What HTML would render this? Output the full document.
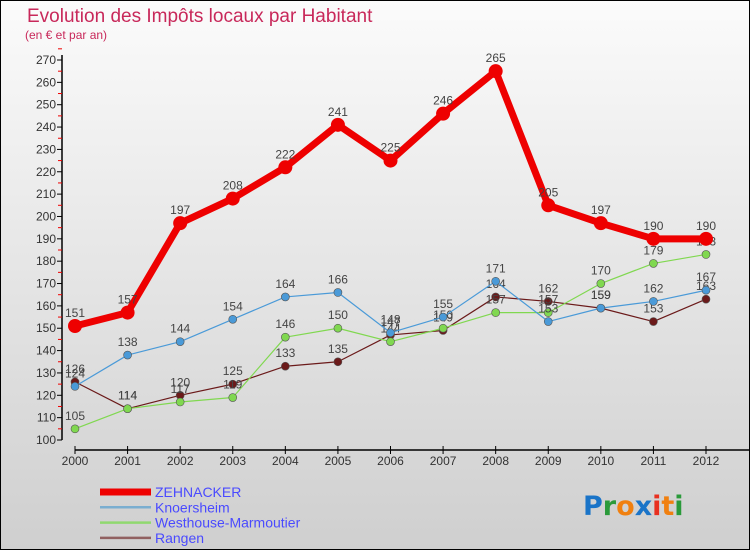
<!DOCTYPE html>
<html><head><meta charset="utf-8"><style>
html,body{margin:0;padding:0}
body{width:750px;height:550px;overflow:hidden;font-family:"Liberation Sans",sans-serif}
</style></head><body>
<svg id="chart" width="750" height="550" xmlns="http://www.w3.org/2000/svg">
<defs><linearGradient id="bg" x1="0" y1="0" x2="0" y2="1"><stop offset="0" stop-color="#fbfbfb"/><stop offset="1" stop-color="#cfcfcf"/></linearGradient></defs>
<rect x="0.5" y="0.5" width="749" height="549" fill="url(#bg)" stroke="#000"/>
<text x="27" y="22" font-size="19" fill="#c8285a">Evolution des Impôts locaux par Habitant</text>
<text x="25" y="39" font-size="12" fill="#c8285a">(en € et par an)</text>
<g id="axes"></g>
<g id="series"></g>
<g id="legend"></g>
<g font-size="27" font-weight="bold" font-family="'DejaVu Sans',sans-serif">
<text x="583" y="515"><tspan fill="#1a74c8">P</tspan><tspan fill="#2a9a3a">r</tspan><tspan fill="#f08010">o</tspan><tspan fill="#1a74c8">x</tspan><tspan fill="#e83020">i</tspan><tspan fill="#f08010">t</tspan><tspan fill="#2a9a3a">i</tspan></text>
</g>
</svg>
<script>
const years = [2000,2001,2002,2003,2004,2005,2006,2007,2008,2009,2010,2011,2012];
const zehnacker = [151,157,197,208,222,241,225,246,265,205,197,190,190];
const knoersheim = [124,138,144,154,164,166,148,155,171,153,159,162,167];
const westhouse = [105,114,117,119,146,150,144,150,157,157,170,179,183];
const rangen = [126,114,120,125,133,135,147,149,164,162,159,153,163];
const yTicks = [100,110,120,130,140,150,160,170,180,190,200,210,220,230,240,250,260,270];
const seriesNames = ["ZEHNACKER","Knoersheim","Westhouse-Marmoutier","Rangen"];

const NS="http://www.w3.org/2000/svg";
function X(i){return 75+i*(706-75)/(years.length-1);}
function Y(v){return 440-(v-100)*(380/170);}
function mk(tag,attrs,parent){const e=document.createElementNS(NS,tag);for(const k in attrs)e.setAttribute(k,attrs[k]);parent.appendChild(e);return e;}
const axes=document.getElementById('axes');
const yAxis=mk('line',{x1:62,y1:55,x2:62,y2:440,stroke:'#000','stroke-width':1.5},axes);


yTicks.forEach(t=>{
  const l=mk('line',{x1:57,x2:62,y1:Y(t),y2:Y(t),stroke:'#000'},axes);
  
  
  const r=mk('line',{x1:58,x2:62,y1:Y(t+5),y2:Y(t+5),stroke:'#e00'},axes);
  
  
  const tx=mk('text',{x:56,y:Y(t)+4,'text-anchor':'end','font-size':12,fill:'#333'},axes);
  tx.textContent=t;
  
  
});
const xAxis=mk('line',{x1:75,y1:450,x2:750,y2:450,stroke:'#000','stroke-width':1.5},axes);


years.forEach((yr,i)=>{
  const l=mk('line',{x1:X(i),x2:X(i),y1:446,y2:454,stroke:'#000'},axes);
  
  
  const tx=mk('text',{x:X(i),y:465,'text-anchor':'middle','font-size':12,fill:'#333'},axes);
  tx.textContent=yr;
  
  
});
const ser=document.getElementById('series');
const specs=[
 {d:rangen,c:'#6b1a1a',w:1.2,r:4,name:'rangen'},
 {d:westhouse,c:'#80d850',w:1.2,r:4,name:'westhouse-marmoutier'},
 {d:knoersheim,c:'#4a9ad8',w:1.2,r:4,name:'knoersheim'},
 {d:zehnacker,c:'#ee0000',w:7,r:7,name:'zehnacker'}
];
specs.forEach(s=>{
  const g=mk('g',{},ser);
  
  
  const pts=s.d.map((v,i)=>X(i)+','+Y(v)).join(' ');
  const pl=mk('polyline',{points:pts,fill:'none',stroke:s.c,'stroke-width':s.w,'stroke-linejoin':'round'},g);
  
  
  s.d.forEach((v,i)=>{
    const c=mk('circle',{cx:X(i),cy:Y(v),r:s.r,fill:s.c,stroke:'#555','stroke-width':s.w>2?0:0.6},g);
    
    
    const t=mk('text',{x:X(i),y:Y(v)-9,'text-anchor':'middle','font-size':12,fill:'#444'},g);
    t.textContent=v;
    
    
  });
});
const leg=document.getElementById('legend');
const lc=['#ee0000','#7aaed0','#90d870','#906060'];
const lw=[7,2.5,2.5,2.5];
seriesNames.forEach((n,i)=>{
  const y=492+i*15.3;
  const g=mk('g',{},leg);
  
  
  mk('line',{x1:100,x2:151,y1:y,y2:y,stroke:lc[i],'stroke-width':lw[i]},g);
  const t=mk('text',{x:155,y:y+5,'font-size':14,fill:'#4a4aff'},g);
  t.textContent=n;
});
</script>
</body></html>
